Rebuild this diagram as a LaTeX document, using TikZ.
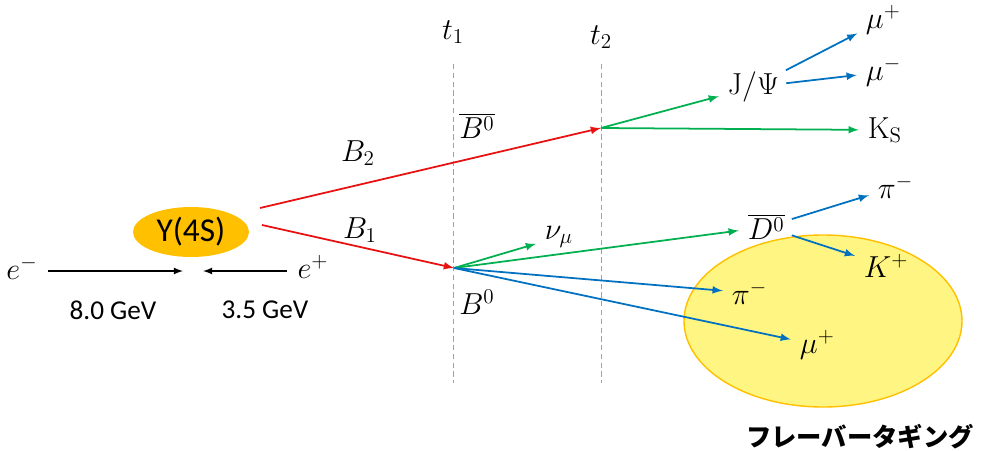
\documentclass[tikz,border=0pt]{standalone}
\usepackage[no-math]{fontspec}
\setmainfont{Carlito}
\newfontfamily\jpfont{Noto Sans CJK JP}
\usetikzlibrary{shapes.geometric}
\definecolor{trackred}{RGB}{232,16,16}
\definecolor{trackgreen}{RGB}{0,176,80}
\definecolor{trackblue}{RGB}{0,112,192}
\definecolor{upsgold}{RGB}{255,192,0}
\definecolor{tagyellow}{RGB}{255,245,130}
\definecolor{timeblue}{RGB}{120,170,220}
\tikzset{>=latex}
\tikzset{
  lbl/.style = {inner sep=2pt, anchor=west},
  redtrack/.style = {->, trackred, line width=1pt},
  greentrack/.style = {->, trackgreen, line width=1pt, shorten >=3pt},
  bluetrack/.style = {->, trackblue, line width=1pt, shorten >=3pt, shorten <=2pt},
  beam/.style = {->, black, line width=0.8pt},
  timeline/.style = {timeblue, densely dashed, line width=0.4pt},
  gevtext/.style = {font=\fontsize{15.5}{18}\selectfont}
}

\begin{document}
\begin{tikzpicture}[x=0.02cm,y=-0.02cm,font=\LARGE]
  \useasboundingbox (0,0) rectangle (984,450);
  % flavour tagging side
  \draw[upsgold, fill=tagyellow, line width=0.8pt] (823,321) ellipse [x radius=139, y radius=86];
  % time lines
  \coordinate (t1top) at (453,64);
  \coordinate (t1bot) at (453,383);
  \coordinate (t2top) at (601,64);
  \coordinate (t2bot) at (601,383);
  \draw[timeline] (t1top) -- (t1bot);
  \draw[timeline] (t2top) -- (t2bot);
  \node (t1) at (453,32) {$t_1$};
  \node (t2) at (601,37) {$t_2$};
  % Y(4S) and beams
  \node[ellipse, fill=upsgold, minimum width=116*0.02cm, minimum height=50*0.02cm,
        inner sep=0pt, font=\fontsize{19}{22}\selectfont] (ups) at (191,232) {Y(4S)};
  \node (em) at (22,268) {$e^-$};
  \node (ep) at (313,267) {$e^+$};
  \coordinate (cml) at (183,271);
  \coordinate (cmr) at (203,271);
  \draw[beam] (em) ++(26,3) coordinate (emstart) -- (cml);
  \draw[beam] (ep) ++(-26,4) coordinate (epstart) -- (cmr);
  \node[gevtext] (gev8) at (113,310) {8.0 GeV};
  \node[gevtext] (gev35) at (265,310) {3.5 GeV};
  % B pair
  \coordinate (v1) at (454,268);
  \coordinate (v2) at (601,128);
  \coordinate (b2start) at (260,208);
  \coordinate (b1start) at (262,225);
  \draw[redtrack] (b2start) -- (v2);
  \draw[redtrack] (b1start) -- (v1);
  \node (b2) at (358,153) {$B_2$};
  \node (b1) at (360,230) {$B_1$};
  \node (b0bar) at (477,126) {$\overline{B^0}$};
  \node (b0) at (477,302) {$B^0$};
  % CP side
  \node[lbl] (jpsi) at (724,87) {$\mathrm{J}/\Psi$};
  \node[lbl] (ks) at (864,130) {$\mathrm{K_S}$};
  \node[lbl] (mupa) at (862,20) {$\mu^+$};
  \node[lbl] (mumi) at (862,72) {$\mu^-$};
  \draw[greentrack] (v2) -- (jpsi);
  \draw[greentrack] (v2) -- (ks);
  \draw[bluetrack] (jpsi) -- (mupa);
  \draw[bluetrack] (jpsi) -- (mumi);
  % tag side
  \node[lbl] (nu) at (541,237) {$\nu_\mu$};
  \node[lbl] (d0bar) at (744,227) {$\overline{D^0}$};
  \node[lbl] (pia) at (728,293) {$\pi^-$};
  \node[lbl] (mupb) at (796,345) {$\mu^+$};
  \node[lbl] (pib) at (874,187) {$\pi^-$};
  \node[lbl] (kp) at (860,266) {$K^+$};
  \draw[greentrack] (v1) -- (nu);
  \draw[greentrack] (v1) -- (d0bar);
  \draw[bluetrack, shorten <=0pt] (v1) -- (pia);
  \draw[bluetrack, shorten <=0pt] (v1) -- (mupb);
  \draw[bluetrack] (d0bar) -- (pib);
  \draw[bluetrack] (d0bar) -- (kp);
  \node[font=\jpfont\bfseries\Large] (tagging) at (860,437) {フレーバータギング};
\end{tikzpicture}
\end{document}
